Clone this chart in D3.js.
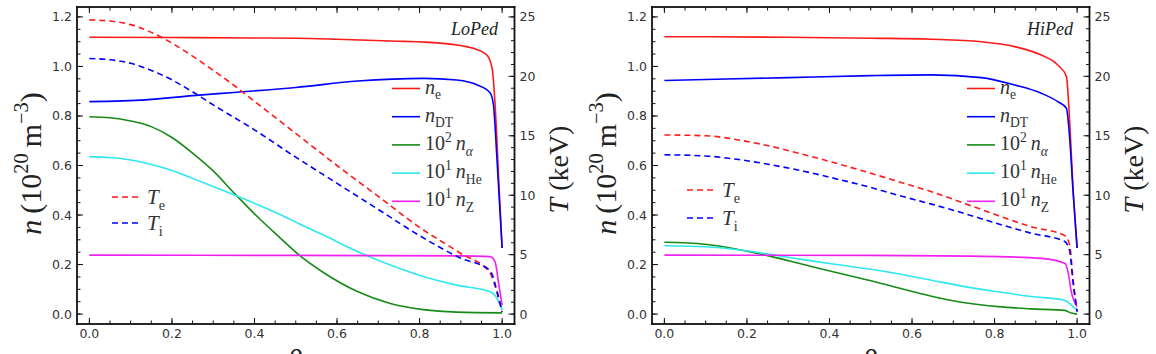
<!DOCTYPE html>
<html>
<head>
<meta charset="utf-8">
<script src="https://cdn.jsdelivr.net/npm/d3@7"></script>
<style>
  body { margin: 0; background: #fff; }
  #chart { position: relative; width: 1156px; height: 354px; overflow: hidden; }
  #chart svg { position: absolute; left: 0; top: 0; display: block; }
</style>
</head>
<body>
<div id="chart"></div>
<script>
const width = 1156
const height = 354

// ---- data: [rho, value]; densities in 1e20 m^-3, temperatures in keV ----

const loNe  = [[0,1.118],[0.2,1.117],[0.4,1.115],[0.5,1.114],[0.6,1.11],[0.73,1.103],[0.85,1.094],[0.93,1.073],[0.963,1.046],[0.976,0.99],[0.983,0.845],[0.991,0.57],[1.0,0.267]]
const loNdt = [[0,0.858],[0.137,0.865],[0.25,0.882],[0.35,0.895],[0.5,0.915],[0.65,0.941],[0.81,0.952],[0.89,0.945],[0.94,0.925],[0.971,0.893],[0.979,0.845],[0.987,0.642],[1.0,0.267]]
const loNa  = [[0,0.797],[0.05,0.793],[0.1,0.78],[0.15,0.757],[0.2,0.713],[0.25,0.65],[0.3,0.578],[0.35,0.49],[0.406,0.395],[0.462,0.308],[0.507,0.24],[0.567,0.168],[0.648,0.092],[0.729,0.043],[0.809,0.018],[0.89,0.008],[1.0,0.005]]
const loNhe = [[0,0.636],[0.05,0.632],[0.1,0.622],[0.15,0.604],[0.2,0.58],[0.25,0.548],[0.3,0.515],[0.35,0.482],[0.406,0.443],[0.462,0.402],[0.507,0.366],[0.567,0.319],[0.648,0.254],[0.729,0.198],[0.809,0.152],[0.89,0.117],[0.971,0.09],[0.987,0.065],[1.0,0.016]]
const loNz  = [[0,0.238],[0.5,0.237],[0.9,0.235],[0.971,0.232],[0.983,0.211],[0.991,0.13],[1.0,0.036]]
const loTe  = [[0,24.75],[0.05,24.65],[0.1,24.35],[0.15,23.7],[0.2,22.8],[0.25,21.7],[0.3,20.5],[0.35,19.25],[0.4,17.9],[0.5,15.2],[0.6,12.5],[0.7,9.9],[0.8,7.3],[0.9,5.1],[0.97,3.5],[0.99,1.5],[1.0,0.2]]
const loTi  = [[0,21.5],[0.05,21.4],[0.1,21.1],[0.15,20.5],[0.2,19.7],[0.25,18.7],[0.3,17.6],[0.4,15.5],[0.5,13.2],[0.6,11.0],[0.7,8.8],[0.8,6.6],[0.9,4.7],[0.97,3.7],[0.99,1.6],[1.0,0.2]]

const hiNe  = [[0,1.12],[0.3,1.118],[0.5,1.114],[0.647,1.11],[0.768,1.1],[0.849,1.08],[0.913,1.046],[0.953,1.006],[0.974,0.96],[0.982,0.777],[0.99,0.51],[1.0,0.267]]
const hiNdt = [[0,0.943],[0.3,0.955],[0.5,0.963],[0.647,0.966],[0.768,0.955],[0.849,0.925],[0.913,0.892],[0.953,0.858],[0.974,0.831],[0.982,0.71],[0.99,0.5],[1.0,0.267]]
const hiNa  = [[0,0.29],[0.098,0.282],[0.179,0.261],[0.26,0.232],[0.34,0.199],[0.421,0.166],[0.495,0.137],[0.566,0.106],[0.647,0.072],[0.728,0.046],[0.808,0.03],[0.889,0.021],[0.97,0.015],[0.986,0.004],[1.0,0.0]]
const hiNhe = [[0,0.276],[0.098,0.272],[0.179,0.26],[0.26,0.24],[0.34,0.219],[0.421,0.199],[0.5,0.181],[0.566,0.163],[0.647,0.137],[0.728,0.111],[0.808,0.09],[0.889,0.071],[0.97,0.056],[0.986,0.036],[1.0,0.016]]
const hiNz  = [[0,0.238],[0.5,0.237],[0.808,0.232],[0.913,0.225],[0.97,0.205],[0.978,0.17],[0.986,0.09],[1.0,0.03]]
const hiTe  = [[0,15.07],[0.1,15.0],[0.18,14.65],[0.26,14.1],[0.34,13.4],[0.42,12.65],[0.5,11.85],[0.566,11.15],[0.647,10.3],[0.728,9.3],[0.808,8.3],[0.889,7.35],[0.97,6.6],[0.982,5.8],[0.99,3.0],[1.0,0.2]]
const hiTi  = [[0,13.4],[0.1,13.3],[0.18,13.0],[0.26,12.55],[0.34,12.0],[0.42,11.35],[0.5,10.65],[0.566,10.0],[0.647,9.25],[0.728,8.45],[0.808,7.6],[0.889,6.8],[0.97,6.1],[0.982,5.3],[0.99,2.7],[1.0,0.2]]

const xTicks = [0, 0.2, 0.4, 0.6, 0.8, 1.0]
const nTicks = [0, 0.2, 0.4, 0.6, 0.8, 1.0, 1.2]
const tTicks = [0, 5, 10, 15, 20, 25]

const panelNames = ["LoPed", "HiPed"]

// ---- layout ----
const plotW = 437.5
const plotTop = 7
const plotBottom = 324
const xDomain = [-0.03, 1.03]
const nDomain = [-0.04, 1.24]
const tDomain = [-0.04 * 25 / 1.2, 1.24 * 25 / 1.2]

const tickFont = "'DejaVu Sans', sans-serif"
const mathFont = "'Liberation Serif', 'DejaVu Serif', serif"

const chart = d3.select("#chart")
const svg = chart.append("svg")
  .attr("width", width)
  .attr("height", height)

// rich text helper: parts = [{t, i (italic), s: "sub"|"sup"}]
function rich(textSel, parts, size) {
  let cur = 0
  parts.forEach(p => {
    const off = p.s === "sub" ? size * 0.28 : p.s === "sup" ? -size * 0.42 : 0
    textSel.append("tspan")
      .attr("dy", off - cur)
      .style("font-size", (p.s ? size * 0.68 : size) + "px")
      .style("font-style", p.i ? "italic" : "normal")
      .text(p.t)
    cur = off
  })
}

function drawPanel(cfg) {
  const g = svg.append("g")
  const x = d3.scaleLinear().domain(xDomain).range([cfg.left, cfg.left + plotW])
  const y = d3.scaleLinear().domain(nDomain).range([plotBottom, plotTop])
  const yT = d3.scaleLinear().domain(tDomain).range([plotBottom, plotTop])
  const right = cfg.left + plotW

  // tick labels
  const lab = sel => sel.attr("fill", "#333").style("font-family", tickFont).style("font-size", "12.5px")
  g.append("g").selectAll("text").data(xTicks).join("text")
    .attr("x", v => x(v)).attr("y", plotBottom + 14)
    .attr("text-anchor", "middle").call(lab)
    .text(d3.format(".1f"))
  g.append("g").selectAll("text").data(nTicks).join("text")
    .attr("x", cfg.left - 5).attr("y", v => y(v) + 4.5)
    .attr("text-anchor", "end").call(lab)
    .text(d3.format(".1f"))
  g.append("g").selectAll("text").data(tTicks).join("text")
    .attr("x", right + 5).attr("y", v => yT(v) + 4.5)
    .attr("text-anchor", "start").call(lab)
    .text(d3.format("d"))

  // inward ticks as thin filled rects
  const ticks = []
  d3.range(0, 1.0001, 0.05).forEach(v => ticks.push({x: x(v) - 0.5, y: plotBottom - 3.5, w: 1, h: 3.5}, {x: x(v) - 0.5, y: plotTop, w: 1, h: 3.5}))
  xTicks.forEach(v => ticks.push({x: x(v) - 0.5, y: plotBottom - 6, w: 1, h: 6}, {x: x(v) - 0.5, y: plotTop, w: 1, h: 6}))
  d3.range(0, 1.2001, 0.05).forEach(v => ticks.push({x: cfg.left, y: y(v) - 0.5, w: 3.5, h: 1}))
  nTicks.forEach(v => ticks.push({x: cfg.left, y: y(v) - 0.5, w: 6, h: 1}))
  d3.range(0, 25.001, 1).forEach(v => ticks.push({x: right - 3.5, y: yT(v) - 0.5, w: 3.5, h: 1}))
  tTicks.forEach(v => ticks.push({x: right - 6, y: yT(v) - 0.5, w: 6, h: 1}))
  g.append("g").selectAll("rect").data(ticks).join("rect")
    .attr("x", t => t.x).attr("y", t => t.y)
    .attr("width", t => t.w).attr("height", t => t.h)
    .attr("fill", "#111")

  // curves
  const lineN = d3.line().x(p => x(p[0])).y(p => y(p[1])).curve(d3.curveMonotoneX)
  const lineT = d3.line().x(p => x(p[0])).y(p => yT(p[1])).curve(d3.curveMonotoneX)

  cfg.series.forEach(s => {
    g.append("path")
      .datum(s.data)
      .attr("d", s.temp ? lineT : lineN)
      .attr("fill", "none")
      .attr("stroke", s.color)
      .attr("stroke-width", 1.6)
      .attr("stroke-dasharray", s.temp ? "6,4" : null)
  })

  // frame as four filled bars
  const fw = 1.8
  const bars = [
    {x: cfg.left - fw / 2, y: plotTop - fw / 2, w: plotW + fw, h: fw},
    {x: cfg.left - fw / 2, y: plotBottom - fw / 2, w: plotW + fw, h: fw},
    {x: cfg.left - fw / 2, y: plotTop - fw / 2, w: fw, h: plotBottom - plotTop + fw},
    {x: right - fw / 2, y: plotTop - fw / 2, w: fw, h: plotBottom - plotTop + fw}
  ]
  g.append("g").selectAll("rect").data(bars).join("rect")
    .attr("x", b => b.x).attr("y", b => b.y)
    .attr("width", b => b.w).attr("height", b => b.h)
    .attr("fill", "#111")

  // panel name
  g.append("text")
    .attr("x", cfg.left + 421).attr("y", 35)
    .attr("text-anchor", "end")
    .style("font-family", mathFont).style("font-style", "italic").style("font-size", "18px")
    .attr("fill", "#222")
    .text(cfg.name)

  // density legend
  cfg.series.filter(s => !s.temp).forEach((s, i) => {
    const ly = 88.5 + i * 28.2
    g.append("path")
      .attr("d", `M${cfg.left + 315},${ly}h28`)
      .attr("stroke", s.color).attr("stroke-width", 1.6)
    const t = g.append("text")
      .attr("x", cfg.left + 348).attr("y", ly + 5)
      .style("font-family", mathFont).attr("fill", "#333")
    rich(t, s.label, 20)
  })

  // temperature legend
  cfg.series.filter(s => s.temp).forEach((s, i) => {
    const ly = cfg.tLegY + i * cfg.tLegDy
    g.append("path")
      .attr("d", `M${cfg.left + 35},${ly}h28`)
      .attr("stroke", s.color).attr("stroke-width", 1.6)
      .attr("stroke-dasharray", "6,4")
    const t = g.append("text")
      .attr("x", cfg.left + 70).attr("y", ly + 7)
      .style("font-family", mathFont).attr("fill", "#333")
    rich(t, s.label, 21)
  })

  // axis titles
  const cy = (plotTop + plotBottom) / 2
  const tl = g.append("text")
    .attr("transform", `translate(${cfg.left - 36},${cy - 2}) rotate(-90)`)
    .attr("text-anchor", "middle")
    .style("font-family", mathFont).attr("fill", "#222")
  rich(tl, [{t: "n", i: true}, {t: "\u2009(10"}, {t: "20", s: "sup"}, {t: "\u2009m"}, {t: "\u22123", s: "sup"}, {t: ")"}], 30)

  const tr = g.append("text")
    .attr("transform", `translate(${right + 53},${cy + 4}) rotate(-90)`)
    .attr("text-anchor", "middle")
    .style("font-family", mathFont).attr("fill", "#222")
  rich(tr, [{t: "T", i: true}, {t: " (keV)"}], 28)

  g.append("text")
    .attr("x", x(0.5)).attr("y", 362)
    .attr("text-anchor", "middle")
    .style("font-family", mathFont).style("font-style", "italic").style("font-size", "28px")
    .attr("fill", "#222")
    .text("\u03c1")
}

const labels = {
  ne:  [{t: "n", i: true}, {t: "e", s: "sub"}],
  ndt: [{t: "n", i: true}, {t: "DT", s: "sub"}],
  na:  [{t: "10"}, {t: "2", s: "sup"}, {t: "\u2009"}, {t: "n", i: true}, {t: "\u03b1", i: true, s: "sub"}],
  nhe: [{t: "10"}, {t: "1", s: "sup"}, {t: "\u2009"}, {t: "n", i: true}, {t: "He", s: "sub"}],
  nz:  [{t: "10"}, {t: "1", s: "sup"}, {t: "\u2009"}, {t: "n", i: true}, {t: "Z", s: "sub"}],
  te:  [{t: "T", i: true}, {t: "e", s: "sub"}],
  ti:  [{t: "T", i: true}, {t: "i", s: "sub"}]
}

function seriesFor(ne, ndt, na, nhe, nz, te, ti) {
  return [
    {data: ne,  color: "#ff1a1a", label: labels.ne},
    {data: ndt, color: "#0000ff", label: labels.ndt},
    {data: na,  color: "#178a17", label: labels.na},
    {data: nhe, color: "#2ee8f0", label: labels.nhe},
    {data: nz,  color: "#f020f0", label: labels.nz},
    {data: te,  color: "#ff1a1a", label: labels.te, temp: true},
    {data: ti,  color: "#0000ff", label: labels.ti, temp: true}
  ]
}

drawPanel({left: 77, name: panelNames[0], tLegY: 197, tLegDy: 26,
  series: seriesFor(loNe, loNdt, loNa, loNhe, loNz, loTe, loTi)})
drawPanel({left: 652, name: panelNames[1], tLegY: 190, tLegDy: 28,
  series: seriesFor(hiNe, hiNdt, hiNa, hiNhe, hiNz, hiTe, hiTi)})
</script>
</body>
</html>
